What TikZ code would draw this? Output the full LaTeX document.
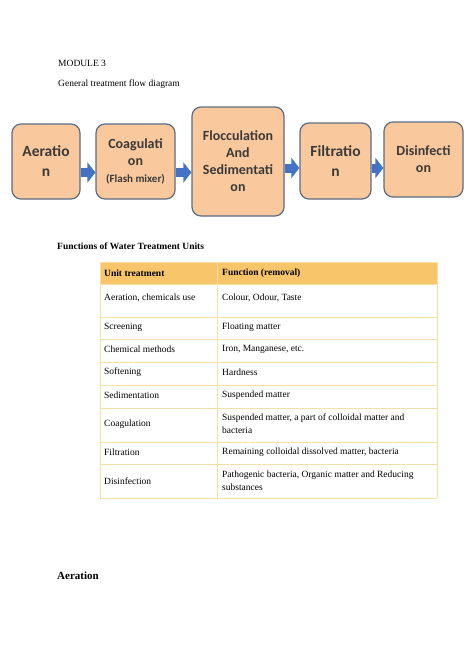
\documentclass[tikz,border=0pt]{standalone}
\usepackage{fontspec}
\setmainfont{Liberation Serif}
\newfontfamily\boxfont{Carlito}
\usepackage{xcolor}
\usetikzlibrary{arrows.meta}
\definecolor{boxfill}{HTML}{F9C99D}
\definecolor{boxline}{HTML}{5B6C84}
\definecolor{boxtext}{HTML}{3A3A3A}
\definecolor{arrowblue}{HTML}{4472C4}
\definecolor{headfill}{HTML}{F8C56B}
\definecolor{gridline}{HTML}{F5DFA3}
\tikzset{
procbox/.style={rectangle, rounded corners=9pt, draw=boxline, fill=boxfill, line width=1.2pt, align=center, text=boxtext, inner sep=0pt},
bigtext/.style={font=\boxfont\bfseries\fontsize{15.5}{20}\selectfont},
midtext/.style={font=\boxfont\bfseries\fontsize{14}{17}\selectfont},
flowarrow/.style={draw=arrowblue, line width=9pt, -{Triangle[length=8pt,width=20pt]}},
pagetext/.style={anchor=base west, inner sep=0pt, font=\fontsize{9.5}{11.5}\selectfont},
pagehead/.style={anchor=base west, inner sep=0pt, font=\bfseries\fontsize{9.5}{11.5}\selectfont},
celltext/.style={anchor=west, inner sep=0pt, align=left, font=\fontsize{9.5}{13}\selectfont},
cellhead/.style={anchor=west, inner sep=0pt, font=\bfseries\fontsize{9.5}{13}\selectfont},
gridrule/.style={draw=gridline, line width=0.9pt},
}
\begin{document}
\begin{tikzpicture}[x=1pt,y=-1pt]
    \useasboundingbox (0,0) rectangle (474,670);
    \node[pagetext] at (58,66) (module) {MODULE 3};
    \node[pagetext] at (58,86) (subtitle) {General treatment flow diagram};

    \node[procbox, bigtext, minimum width=68pt, minimum height=75pt] at (46,161.5) (aer) {Aeratio\\n};
    \node[procbox, midtext, minimum width=79pt, minimum height=75pt] at (135.5,161.5) (coag) {Coagulati\\on\\{\fontsize{11}{13}\selectfont (Flash mixer)}};
    \node[procbox, midtext, minimum width=92pt, minimum height=109pt] at (238,161.5) (floc) {Flocculation\\And\\Sedimentati\\on};
    \node[procbox, bigtext, minimum width=71pt, minimum height=76pt] at (335.5,161) (filt) {Filtratio\\n};
    \node[procbox, midtext, minimum width=79pt, minimum height=75pt] at (423.5,159.5) (dis) {Disinfecti\\on};
    \draw[flowarrow] ([yshift=-11pt]aer.east) -- ([yshift=-11pt]coag.west);
    \draw[flowarrow] ([yshift=-11pt]coag.east) -- ([yshift=-11pt]coag.east -| floc.west);
    \draw[flowarrow] ([yshift=-6.5pt]floc.east) -- ([yshift=-6.5pt]floc.east -| filt.west);
    \draw[flowarrow] ([yshift=-7pt]filt.east) -- ([yshift=-7pt]filt.east -| dis.west);

    \node[pagehead] at (57,249) (tabtitle) {Functions of Water Treatment Units};
    \fill[headfill] (100,262) rectangle (437,284);
    \foreach \y in {262,284,317,339,362,385,408,442,464,498}
        \draw[gridrule] (100,\y) -- (437,\y);
    \foreach \x in {100,217,437}
        \draw[gridrule] (\x,262) -- (\x,498);
    \node[cellhead] at (104,273) (unithead) {Unit treatment};
    \node[cellhead] at (222,273) (funchead) {Function (removal)};
    \node[celltext] at (104,298) (u1) {Aeration, chemicals use};
    \node[celltext] at (222,298) (f1) {Colour, Odour, Taste};
    \node[celltext] at (104,327) (u2) {Screening};
    \node[celltext] at (222,327) (f2) {Floating matter};
    \node[celltext] at (104,349) (u3) {Chemical methods};
    \node[celltext] at (222,349) (f3) {Iron, Manganese, etc.};
    \node[celltext] at (104,372) (u4) {Softening};
    \node[celltext] at (222,372) (f4) {Hardness};
    \node[celltext] at (104,395) (u5) {Sedimentation};
    \node[celltext] at (222,395) (f5) {Suspended matter};
    \node[celltext] at (104,424) (u6) {Coagulation};
    \node[celltext] at (222,424) (f6) {Suspended matter, a part of colloidal matter and\\bacteria};
    \node[celltext] at (104,452) (u7) {Filtration};
    \node[celltext] at (222,452) (f7) {Remaining colloidal dissolved matter, bacteria};
    \node[celltext] at (104,481) (u8) {Disinfection};
    \node[celltext] at (222,481) (f8) {Pathogenic bacteria, Organic matter and Reducing\\substances};

    \node[pagehead, font=\bfseries\fontsize{11}{13}\selectfont] at (57,579) (section) {Aeration};
\end{tikzpicture}
\end{document}
